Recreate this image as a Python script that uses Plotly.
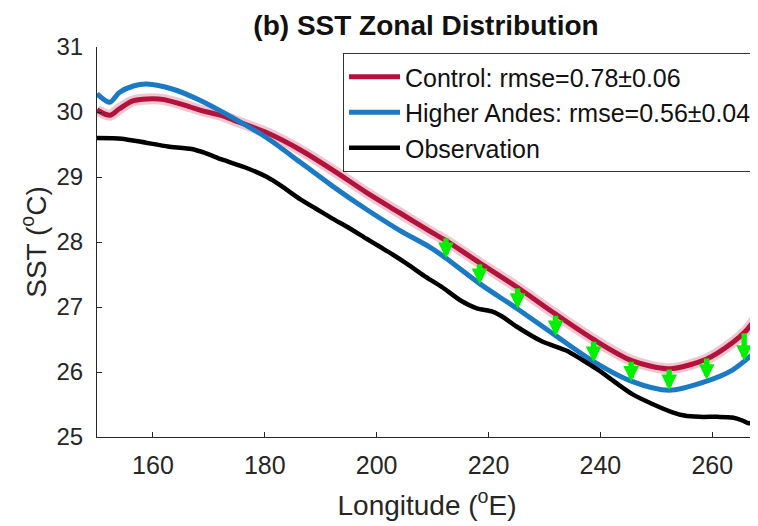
import plotly.graph_objects as go

# ---- data ----
ctrl_lon = [150, 152.3, 154, 156.4, 159, 162, 166.6, 168.4, 172.5, 174.3, 180.4, 186.3, 192.1, 198.2,
            204.1, 210, 212.4, 218.4, 225.2, 232, 238.8, 245.5, 252.3, 259, 263.6, 266, 268]
ctrl_sst = [30.03, 29.95, 30.05, 30.17, 30.2, 30.19, 30.08, 30.03, 29.94, 29.88, 29.68, 29.42, 29.11, 28.76,
            28.45, 28.14, 28.02, 27.68, 27.3, 26.89, 26.5, 26.18, 26.05, 26.2, 26.45, 26.63, 26.85]

andes_lon = [150, 152.3, 154, 156.5, 158.9, 163.6, 168.4, 174.3, 180.4, 186.3, 192.1, 198.2,
             204.1, 209.5, 212.4, 218.4, 225.2, 232, 238.8, 245.5, 252.3, 259, 263.6, 268]
andes_sst = [30.28, 30.15, 30.3, 30.4, 30.43, 30.35, 30.18, 29.91, 29.6, 29.23, 28.86, 28.5,
             28.18, 27.92, 27.75, 27.36, 26.97, 26.56, 26.16, 25.86, 25.72, 25.86, 26.03, 26.33]

obs_lon = [150, 154.4, 158.6, 162.7, 166.9, 169.3, 172.3, 176.4, 180.4, 183, 186.3, 189, 192.1, 195,
           198.2, 200.5, 203, 205.5, 208.5, 211.8, 215, 217.9, 220.7, 222.5, 225, 229.6, 233.9, 236.5,
           239.8, 243, 245.7, 249, 252.9, 255, 257.7, 261, 263.6, 265.5, 266.5, 268]
obs_sst = [29.6, 29.59, 29.53, 29.47, 29.43, 29.37, 29.27, 29.15, 29.0, 28.86, 28.66, 28.52, 28.36, 28.22,
           28.05, 27.93, 27.8, 27.66, 27.48, 27.3, 27.1, 26.98, 26.93, 26.85, 26.7, 26.47, 26.33, 26.2,
           26.02, 25.82, 25.66, 25.52, 25.38, 25.33, 25.31, 25.31, 25.3, 25.25, 25.21, 25.25]

arrow_lon = [212.4, 218.4, 225.2, 232.0, 238.8, 245.5, 252.3, 259.0, 265.7]
arrow_top = [28.08, 27.68, 27.31, 26.89, 26.49, 26.18, 26.06, 26.23, 26.62]
arrow_tip = [27.75, 27.35, 26.97, 26.55, 26.15, 25.85, 25.72, 25.88, 26.17]

x_ticks = [160, 180, 200, 220, 240, 260]
y_ticks = [25, 26, 27, 28, 29, 30, 31]

labels = ["Control: rmse=0.78±0.06", "Higher Andes: rmse=0.56±0.04", "Observation"]

RED = "#B3123D"
BLUE = "#1B7AC4"
FONT = "Liberation Sans, Arial, Helvetica, sans-serif"

# The page body has an 8px default margin, so the figure is 8px smaller and margins shifted.
W, H = 750, 518

fig = go.Figure()
fig.add_trace(go.Scatter(x=ctrl_lon, y=ctrl_sst, mode="lines",
                         line=dict(color="rgba(205,50,90,0.28)", width=11, shape="spline", smoothing=0.8),
                         showlegend=False, hoverinfo="skip"))
fig.add_trace(go.Scatter(x=ctrl_lon, y=ctrl_sst, mode="lines", name=labels[0],
                         line=dict(color=RED, width=5, shape="spline", smoothing=0.8)))
fig.add_trace(go.Scatter(x=andes_lon, y=andes_sst, mode="lines", name=labels[1],
                         line=dict(color=BLUE, width=5, shape="spline", smoothing=0.8)))
fig.add_trace(go.Scatter(x=obs_lon, y=obs_sst, mode="lines", name=labels[2],
                         line=dict(color="black", width=4.5, shape="spline", smoothing=0.6)))

for lon, top, tip in zip(arrow_lon, arrow_top, arrow_tip):
    fig.add_annotation(x=lon, y=tip, ax=lon, ay=top, xref="x", yref="y", axref="x", ayref="y",
                       text="", showarrow=True, arrowhead=2, arrowsize=0.58, arrowwidth=5.4,
                       arrowcolor="#00F000", standoff=0)

fig.update_layout(
    width=W, height=H,
    margin=dict(l=89, r=1, t=39, b=89, autoexpand=False),
    paper_bgcolor="white", plot_bgcolor="white",
    font=dict(family=FONT, color="#262626"),
    title=dict(text="<b>(b) SST Zonal Distribution</b>", x=418 / W, xanchor="center",
               y=1 - 17 / H, yanchor="middle", yref="container",
               font=dict(size=28, color="#111111", family=FONT)),
    legend=dict(x=1, xanchor="right", y=0.9846, yanchor="top",
                bgcolor="white", bordercolor="#333333", borderwidth=1,
                font=dict(size=25, color="#111111", family=FONT),
                tracegroupgap=0, itemwidth=51),
    showlegend=True,
)
fig.update_xaxes(range=[150, 268], tickvals=x_ticks, ticks="inside", ticklen=5,
                 tickcolor="#262626", showline=True, linecolor="#262626", linewidth=1,
                 showgrid=False, zeroline=False, tickfont=dict(size=25), automargin=False,
                 ticklabelstandoff=6,
                 title=dict(text="Longitude (<sup>o</sup>E)", font=dict(size=28), standoff=17))
fig.update_yaxes(range=[25, 31], tickvals=y_ticks, ticks="inside", ticklen=5,
                 tickcolor="#262626", showline=True, linecolor="#262626", linewidth=1,
                 showgrid=False, zeroline=False, tickfont=dict(size=24), automargin=False,
                 ticklabelstandoff=8,
                 title=dict(text="SST (<sup>o</sup>C)", font=dict(size=28), standoff=1))

fig.write_html("out.html")
